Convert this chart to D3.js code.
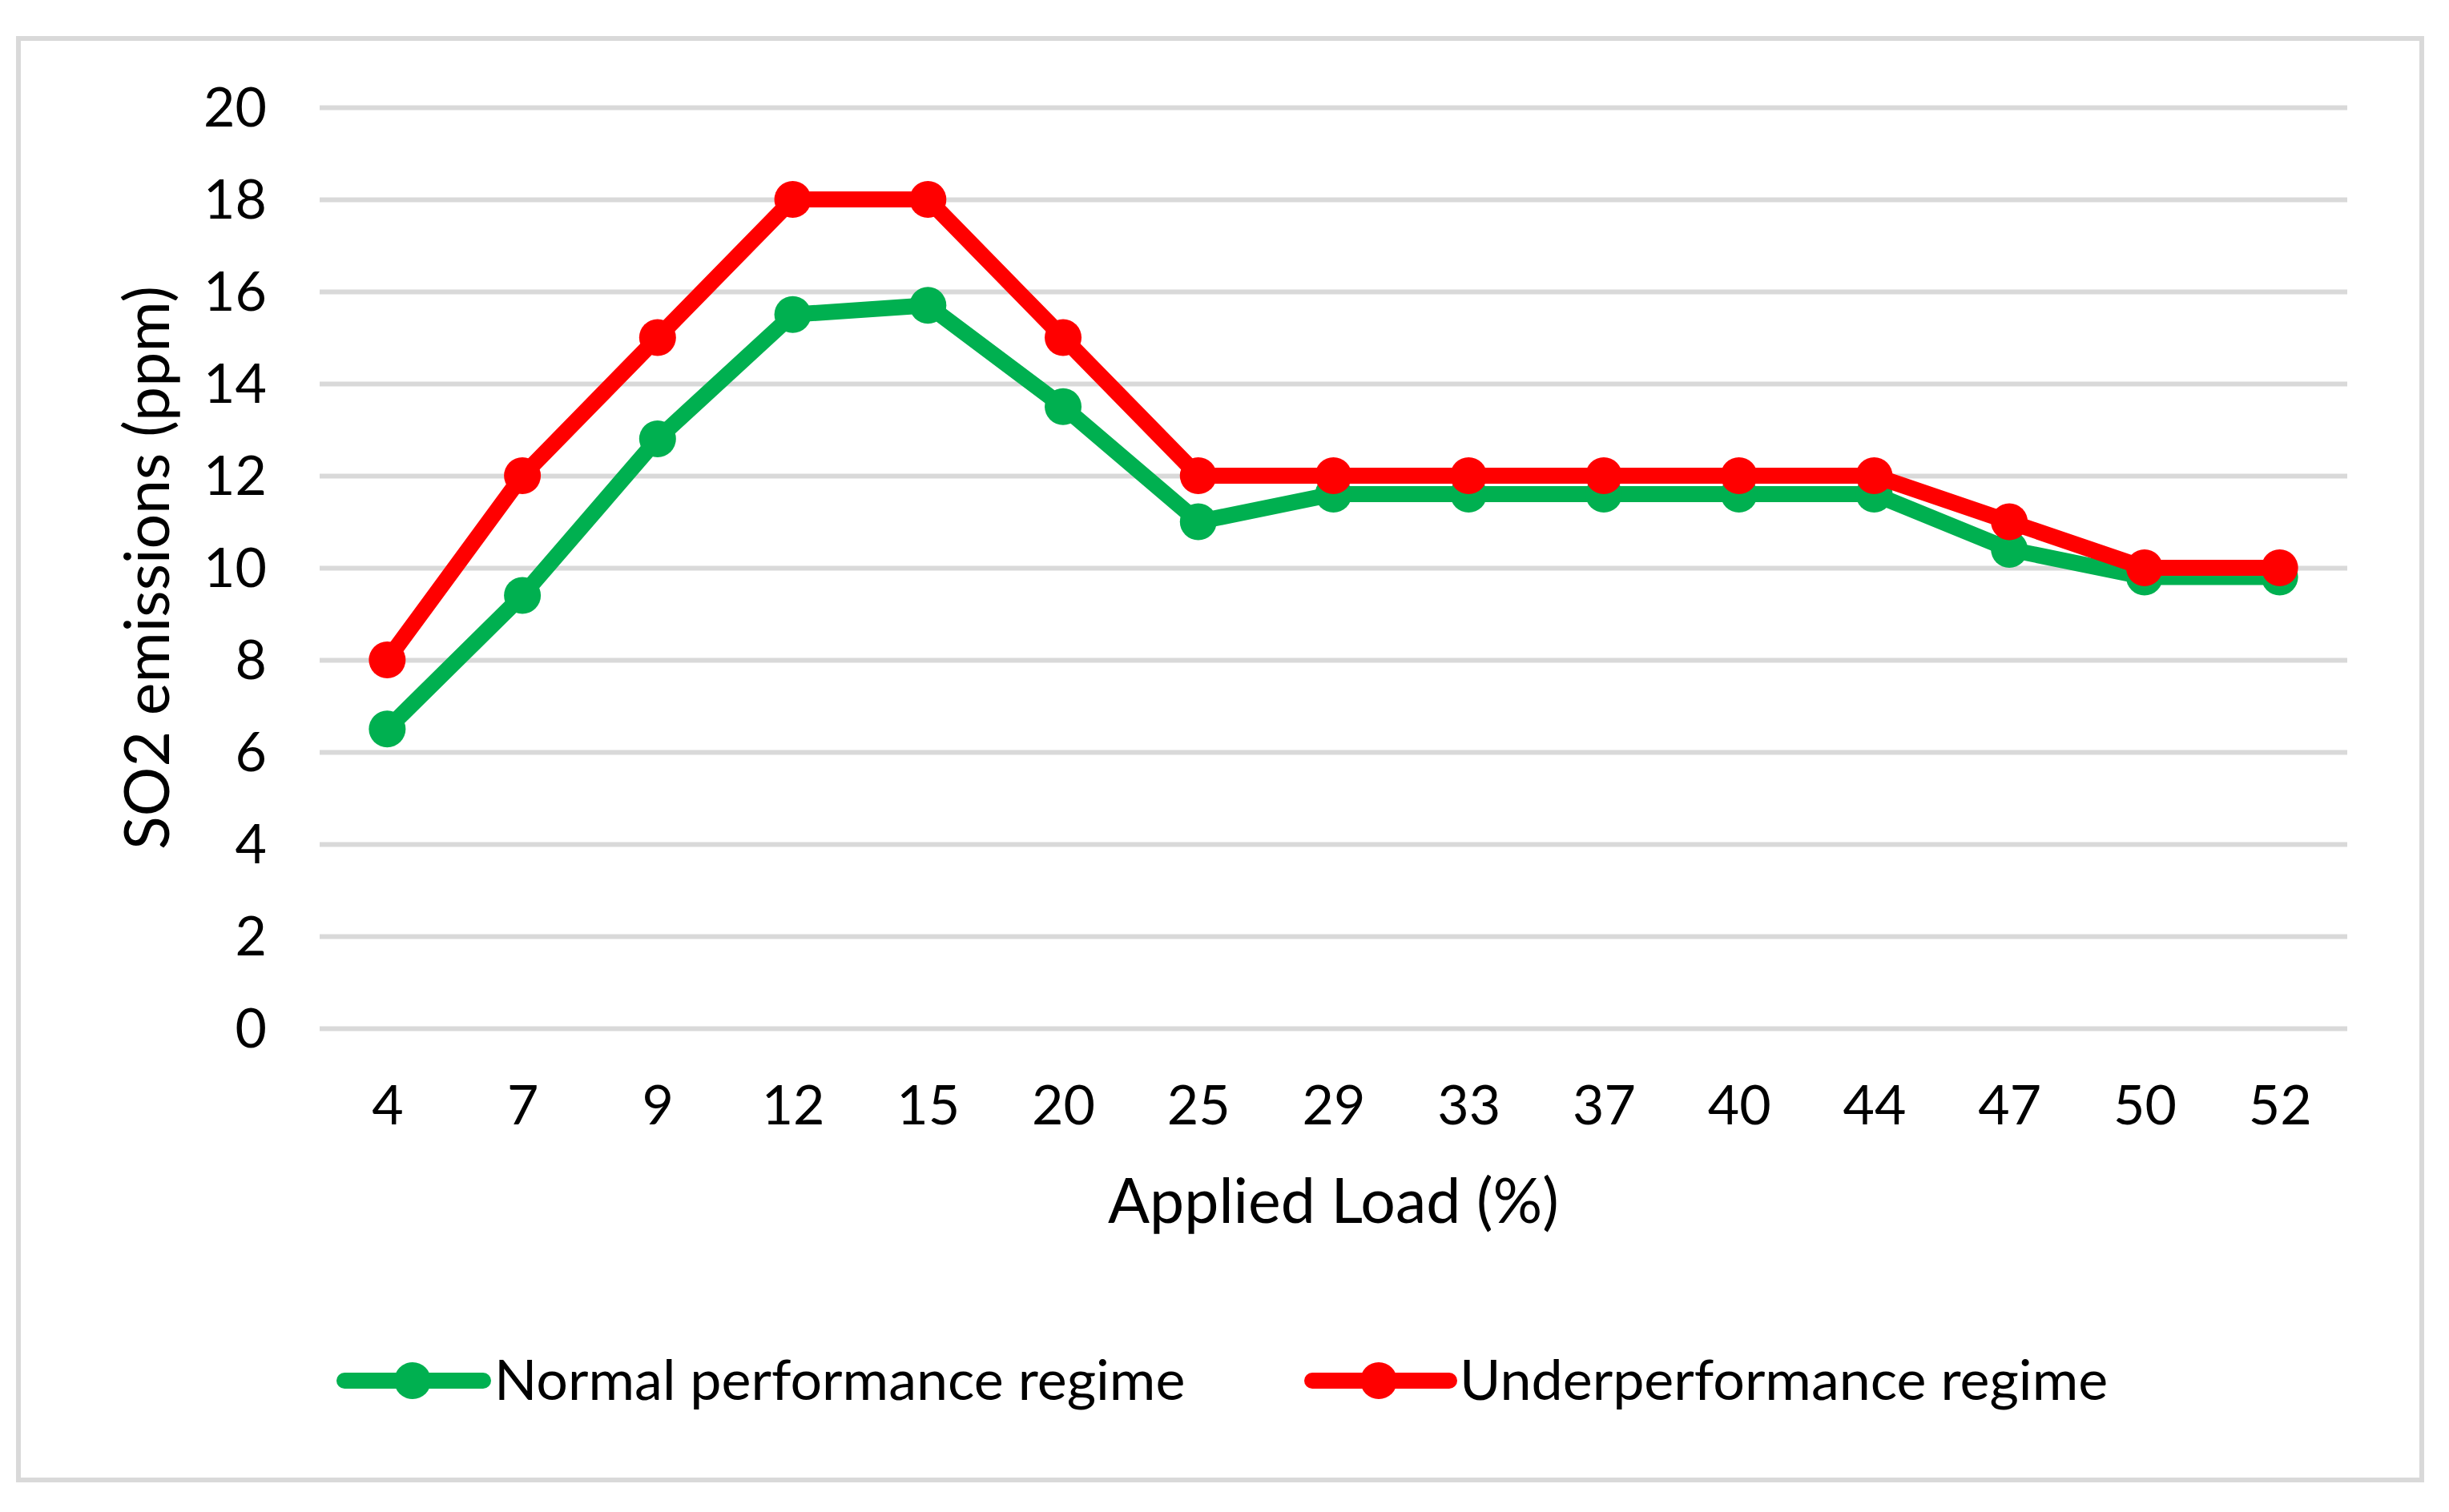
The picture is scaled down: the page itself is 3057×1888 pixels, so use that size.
<!DOCTYPE html>
<html>
<head>
<meta charset="utf-8">
<script src="https://cdn.jsdelivr.net/npm/d3@7"></script>
<style>
  html, body { margin: 0; padding: 0; background: #ffffff; }
  svg { display: block; }
  text { font-family: Lato, "Open Sans", sans-serif; fill: #000; }
</style>
</head>
<body>
<svg id="chart" width="3057" height="1888"></svg>
<script>
const categories = ["4", "7", "9", "12", "15", "20", "25", "29", "33", "37", "40", "44", "47", "50", "52"];
const normalValues = [6.5, 9.4, 12.8, 15.5, 15.7, 13.5, 11.0, 11.6, 11.6, 11.6, 11.6, 11.6, 10.4, 9.8, 9.8];
const underValues  = [8, 12, 15, 18, 18, 15, 12, 12, 12, 12, 12, 12, 11, 10, 10];
const yTicks = [0, 2, 4, 6, 8, 10, 12, 14, 16, 18, 20];
const seriesNames = ["Normal performance regime", "Underperformance regime"];
const seriesColors = ["#00B050", "#FF0000"];
const xTitle = "Applied Load (%)";
const yTitle = "SO2 emissions (ppm)";

const svg = d3.select("#chart");
const W = 3057, H = 1888;
const plot = { left: 399, right: 2930, top: 134, bottom: 1284 };
const tickFont = 68;
const titleFont = 77;
const legendFont = 70;

svg.append("rect").attr("x", 0).attr("y", 0).attr("width", W).attr("height", H).attr("fill", "#fff");
// outer chart border
svg.append("rect").attr("x", 23).attr("y", 48).attr("width", 3000).attr("height", 1800)
  .attr("fill", "#fff").attr("stroke", "#d9d9d9").attr("stroke-width", 6);

const x = d3.scalePoint().domain(categories).range([plot.left, plot.right]).padding(0.5);
const y = d3.scaleLinear().domain([0, 20]).range([plot.bottom, plot.top]);

// gridlines + y labels
const yAxis = d3.axisLeft(y).tickValues(yTicks).tickSize(-(plot.right - plot.left)).tickPadding(66);
const gy = svg.append("g").attr("transform", `translate(${plot.left},0)`).call(yAxis);
gy.select(".domain").remove();
gy.selectAll(".tick line").attr("stroke", "#d9d9d9").attr("stroke-width", 6);
gy.selectAll(".tick text").attr("font-size", tickFont).attr("font-family", "Lato").attr("fill", "#000")
  .attr("dy", "0.35em");

// x labels
const xAxis = d3.axisBottom(x).tickSize(0).tickPadding(0);
const gx = svg.append("g").attr("transform", `translate(0,${plot.bottom})`).call(xAxis);
gx.select(".domain").remove();
gx.selectAll(".tick text").attr("font-size", tickFont).attr("font-family", "Lato").attr("fill", "#000")
  .attr("dy", 0).attr("y", 120);

// axis titles
svg.append("text").attr("x", (plot.left + plot.right) / 2).attr("y", 1527)
  .attr("text-anchor", "middle").attr("font-size", titleFont).text(xTitle);
svg.append("text").attr("transform", `translate(211,${(plot.top + plot.bottom) / 2}) rotate(-90)`)
  .attr("text-anchor", "middle").attr("font-size", titleFont).text(yTitle);

// series
const series = [
  { name: seriesNames[0], values: normalValues, color: seriesColors[0] },
  { name: seriesNames[1], values: underValues, color: seriesColors[1] }
];
const line = d3.line().x((d, i) => x(categories[i])).y(d => y(d));
series.forEach(s => {
  const g = svg.append("g");
  g.append("path").attr("d", line(s.values)).attr("fill", "none")
    .attr("stroke", s.color).attr("stroke-width", 20).attr("stroke-linejoin", "round").attr("stroke-linecap", "round");
  g.selectAll("circle").data(s.values).join("circle")
    .attr("cx", (d, i) => x(categories[i])).attr("cy", d => y(d)).attr("r", 23).attr("fill", s.color);
});

// legend
const legendY = 1724;
const legendItems = [
  { x0: 430, x1: 603, mx: 515, tx: 617 },
  { x0: 1638, x1: 1809, mx: 1721, tx: 1822 }
];
series.forEach((s, i) => {
  const L = legendItems[i];
  const g = svg.append("g");
  g.append("line").attr("x1", L.x0).attr("x2", L.x1).attr("y1", legendY).attr("y2", legendY)
    .attr("stroke", s.color).attr("stroke-width", 20).attr("stroke-linecap", "round");
  g.append("circle").attr("cx", L.mx).attr("cy", legendY).attr("r", 23).attr("fill", s.color);
  g.append("text").attr("x", L.tx).attr("y", 1748).attr("font-size", legendFont).text(s.name);
});
</script>
</body>
</html>
